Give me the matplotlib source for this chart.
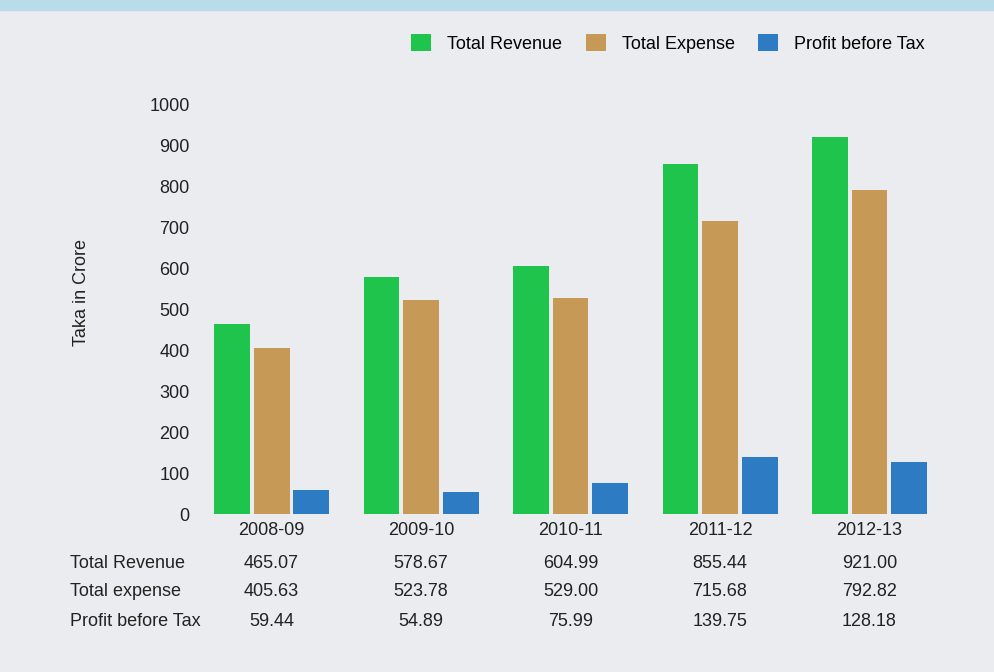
import matplotlib
matplotlib.use("Agg")
import matplotlib.pyplot as plt
import matplotlib.transforms as mtransforms
from matplotlib.patches import Rectangle
import numpy as np

years = ['2008-09', '2009-10', '2010-11', '2011-12', '2012-13']
revenue = [465.07, 578.67, 604.99, 855.44, 921.00]
expense = [405.63, 523.78, 529.00, 715.68, 792.82]
profit = [59.44, 54.89, 75.99, 139.75, 128.18]
legend_labels = ['Total Revenue', 'Total Expense', 'Profit before Tax']
row_labels = ['Total Revenue', 'Total expense', 'Profit before Tax']

plt.rcParams['font.family'] = ['Liberation Sans', 'DejaVu Sans']
bg = '#eaecef'
colors = ['#1ec44c', '#c69a56', '#2d7bc3']
fs = 13

fig = plt.figure(figsize=(9.94, 6.72), dpi=100, facecolor=bg)
fig.patches.append(Rectangle((0, 0.985), 1, 0.015, transform=fig.transFigure,
                             color='#b9dcea', zorder=0))
ax = fig.add_axes([0.195, 0.235, 0.755, 0.609])
ax.set_facecolor(bg)

x = np.arange(len(years))
w = 0.24
off = 0.265
ax.bar(x - off, revenue, w, color=colors[0], label=legend_labels[0])
ax.bar(x, expense, w, color=colors[1], label=legend_labels[1])
ax.bar(x + off, profit, w, color=colors[2], label=legend_labels[2])

ax.set_xlim(-0.52, 4.5)
ax.set_ylim(0, 1000)
ax.set_yticks(range(0, 1001, 100))
ax.set_xticks(x)
ax.set_xticklabels(years)
ax.tick_params(length=0, labelsize=fs, colors='#222222')
ax.tick_params(axis='y', pad=3)
ax.tick_params(axis='x', pad=6)
for s in ax.spines.values():
    s.set_visible(False)

fig.text(0.082, 0.564, 'Taka in Crore', rotation=90, ha='center', va='center',
         fontsize=fs, color='#222222')

ax.legend(loc='lower left', bbox_to_anchor=(0.28, 1.11), ncol=3, frameon=False,
          fontsize=fs, handlelength=1.1, handleheight=1.1, handletextpad=0.9,
          columnspacing=1.3, borderaxespad=0)

# data table under the chart
trans = mtransforms.blended_transform_factory(ax.transData, fig.transFigure)
rows = [revenue, expense, profit]
ys = [1 - 563 / 672, 1 - 592 / 672, 1 - 621 / 672]
for lab, vals, yy in zip(row_labels, rows, ys):
    fig.text(0.07, yy, lab, ha='left', va='center', fontsize=fs, color='#222222')
    for xi, v in zip(x, vals):
        ax.text(xi, yy, f'{v:.2f}', transform=trans, ha='center', va='center',
                fontsize=fs, color='#222222')

fig.savefig('out.png', dpi=100, facecolor=bg)
